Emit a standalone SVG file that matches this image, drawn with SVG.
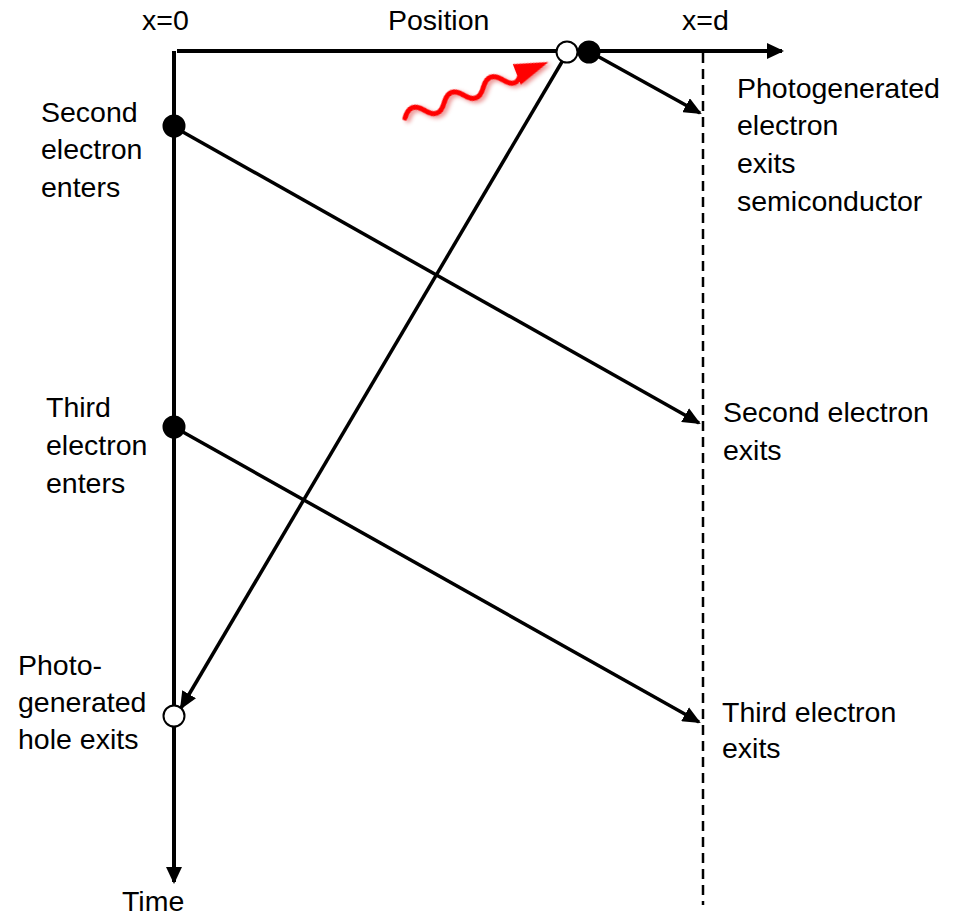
<svg xmlns="http://www.w3.org/2000/svg" width="959" height="919" viewBox="0 0 959 919">
  <style>
    .lbl { font-family: "Liberation Sans", Arial, sans-serif; font-size: 28.5px; fill: #000; }
    .axis { stroke: #000; stroke-width: 4; fill: none; }
    .path { stroke: #000; stroke-width: 3.5; fill: none; }
    .dash { stroke: #000; stroke-width: 2.5; stroke-dasharray: 10 6; fill: none; }
    .filled { fill: #000; stroke: #000; stroke-width: 2; }
    .open { fill: #fff; stroke: #000; stroke-width: 2; }
  </style>
  <defs>
    <marker id="ah" viewBox="0 0 18 16" refX="16" refY="8" markerWidth="18" markerHeight="16" markerUnits="userSpaceOnUse" orient="auto">
      <path d="M0,0 L18,8 L0,16 z" fill="#000"/>
    </marker>
    <marker id="axh" viewBox="0 0 17 16" refX="15" refY="8" markerWidth="17" markerHeight="16" markerUnits="userSpaceOnUse" orient="auto">
      <path d="M0,0 L17,8 L0,16 z" fill="#000"/>
    </marker>
    <filter id="glow" x="-20%" y="-40%" width="140%" height="180%">
      <feDropShadow dx="2" dy="3" stdDeviation="2" flood-color="#d00000" flood-opacity="0.45"/>
    </filter>
  </defs>

  <g id="axes">
    <line class="axis" x1="177" y1="51" x2="782" y2="51" marker-end="url(#axh)"/>
    <line class="axis" x1="174" y1="51" x2="174" y2="882" marker-end="url(#axh)"/>
    <line class="dash" x1="703" y1="53" x2="703" y2="905"/>
  </g>

  <g id="connectors">
    <line class="path" x1="174" y1="127" x2="699" y2="423" marker-end="url(#ah)"/>
    <line class="path" x1="174" y1="427" x2="699" y2="722" marker-end="url(#ah)"/>
    <line class="path" x1="590" y1="52" x2="700" y2="113" marker-end="url(#ah)"/>
    <line class="path" x1="566" y1="55" x2="181" y2="708" marker-end="url(#ah)"/>
  </g>

  <g id="photon" transform="translate(405,118) rotate(-21.3)" filter="url(#glow)">
    <path d="M0,0 Q10.5,-14 21,0 T42,0 T63,0 T84,0 T105,0 T124,0" fill="none" stroke="#ff0000" stroke-width="5" stroke-linecap="round"/>
    <path d="M120,-11 L154,0 L120,11 z" fill="#ff0000"/>
  </g>

  <g id="node-second-enter"><circle class="filled" cx="174" cy="126" r="10.5"/></g>
  <g id="node-third-enter"><circle class="filled" cx="174" cy="427" r="10.5"/></g>
  <g id="node-hole-exit"><circle class="open" cx="174" cy="716" r="10.5"/></g>
  <g id="node-hole-gen"><circle class="open" cx="567" cy="52" r="10.5"/></g>
  <g id="node-electron-gen"><circle class="filled" cx="589" cy="52" r="10.5"/></g>

  <g id="labels">
    <text class="lbl" x="142" y="30">x=0</text>
    <text class="lbl" x="388" y="30">Position</text>
    <text class="lbl" x="682" y="30">x=d</text>
    <text class="lbl" x="122" y="911">Time</text>
    <text class="lbl" x="737" y="98">Photogenerated</text>
    <text class="lbl" x="737" y="135">electron</text>
    <text class="lbl" x="737" y="173">exits</text>
    <text class="lbl" x="737" y="211">semiconductor</text>
    <text class="lbl" x="41" y="122">Second</text>
    <text class="lbl" x="41" y="159">electron</text>
    <text class="lbl" x="41" y="197">enters</text>
    <text class="lbl" x="46" y="417">Third</text>
    <text class="lbl" x="46" y="455">electron</text>
    <text class="lbl" x="46" y="493">enters</text>
    <text class="lbl" x="18" y="675">Photo-</text>
    <text class="lbl" x="18" y="712">generated</text>
    <text class="lbl" x="18" y="749">hole exits</text>
    <text class="lbl" x="723" y="422">Second electron</text>
    <text class="lbl" x="723" y="460">exits</text>
    <text class="lbl" x="722" y="722">Third electron</text>
    <text class="lbl" x="722" y="758">exits</text>
  </g>
</svg>
